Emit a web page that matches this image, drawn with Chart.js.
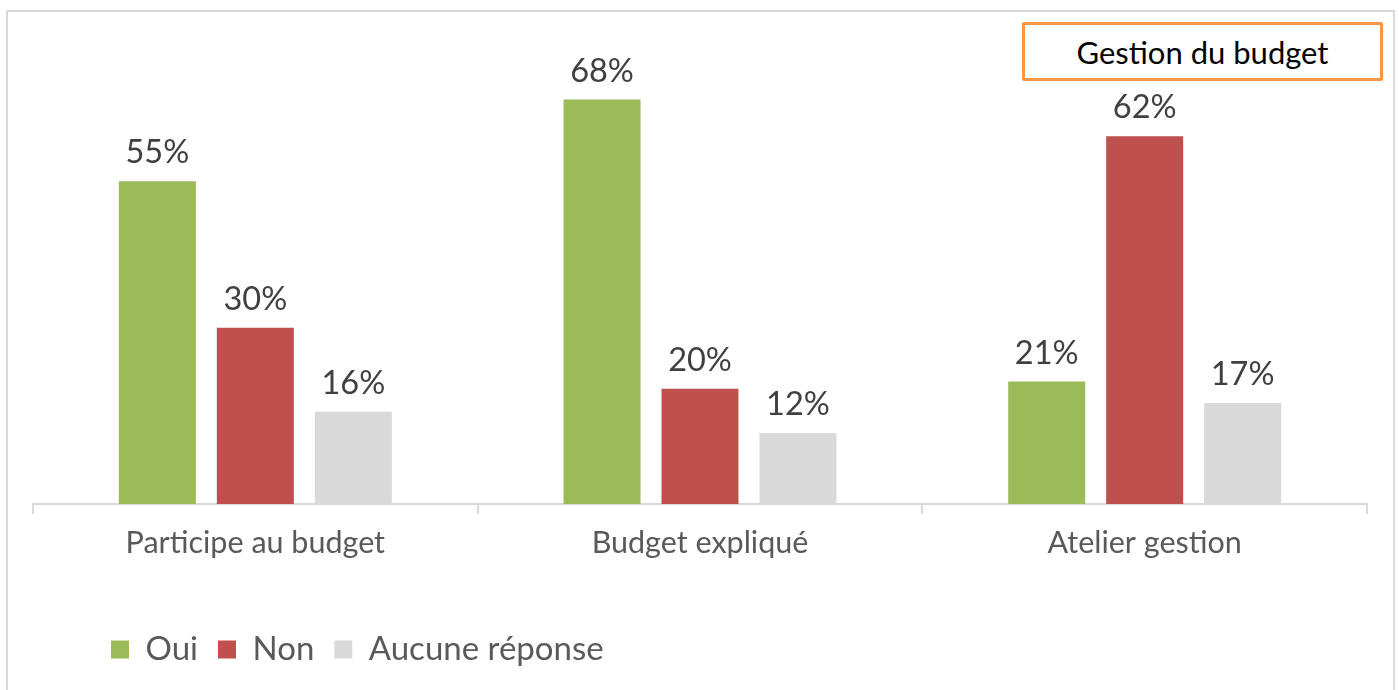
<!DOCTYPE html>
<html>
<head>
<meta charset="utf-8">
<script src="https://cdn.jsdelivr.net/npm/chart.js@4/dist/chart.umd.min.js"></script>
<style>
  html, body { margin: 0; padding: 0; background: #fff; }
  #frame {
    position: absolute; left: 6px; top: 10px; width: 1385px; height: 700px;
    border: 2px solid #d9d9d9; border-bottom: none;
  }
  #wrap { position: absolute; left: 0; top: 0; width: 1399px; height: 690px; }
  #badge {
    position: absolute; left: 1022px; top: 22px; width: 355px; height: 53px;
    border: 3px solid #f79646; border-radius: 2px; background: #fff;
    font-family: Lato, sans-serif; font-size: 31px; color: #000;
    display: flex; align-items: center; justify-content: center;
  }
</style>
</head>
<body>
<div id="frame"></div>
<div id="wrap"><canvas id="chart" width="1399" height="690"></canvas></div>
<div id="badge">Gestion du budget</div>
<script>
// Gestion du budget — réponses par question (en %)
const categories = ["Participe au budget", "Budget expliqué", "Atelier gestion"];
const seriesNames = ["Oui", "Non", "Aucune réponse"];
const oui = [54.6, 68.4, 20.7];
const non = [29.8, 19.5, 62.2];
const aucune = [15.6, 12.0, 17.1];
const colors = ["#9bbb59", "#c0504d", "#d9d9d9"];

const FONT = "Lato, sans-serif";

// value labels above each bar
const barLabels = {
  id: "barLabels",
  afterDatasetsDraw(chart) {
    const ctx = chart.ctx;
    ctx.save();
    ctx.font = "32.5px " + FONT;
    ctx.fillStyle = "#404040";
    ctx.textAlign = "center";
    ctx.textBaseline = "alphabetic";
    chart.data.datasets.forEach((ds, i) => {
      chart.getDatasetMeta(i).data.forEach((bar, j) => {
        ctx.fillText(Math.round(ds.data[j]) + "%", bar.x, bar.y - 18);
      });
    });
    ctx.restore();
  },
};

// push the legend row to the right, like the original
const legendShift = {
  id: "legendShift",
  afterLayout(chart) {
    chart.legend.left += 58;
    chart.legend.right += 58;
  },
};

new Chart(document.getElementById("chart"), {
  type: "bar",
  data: {
    labels: categories,
    datasets: [oui, non, aucune].map((d, i) => ({
      label: seriesNames[i],
      data: d,
      backgroundColor: colors[i],
      borderWidth: 0,
      categoryPercentage: 0.661,
      barPercentage: 0.786,
    })),
  },
  options: {
    responsive: false,
    animation: false,
    layout: { padding: { left: 33, right: 32, top: 31, bottom: 14 } },
    plugins: {
      legend: {
        position: "bottom",
        align: "start",
        labels: {
          boxWidth: 18,
          boxHeight: 18,
          padding: 20,
          color: "#595959",
          font: { family: FONT, size: 33 },
        },
      },
      tooltip: { enabled: false },
    },
    scales: {
      x: {
        grid: {
          offset: true,
          drawOnChartArea: false,
          drawTicks: true,
          tickLength: 10,
          color: "#d9d9d9",
          lineWidth: 2,
        },
        border: { color: "#d9d9d9", width: 2 },
        ticks: {
          color: "#595959",
          padding: 11,
          font: { family: FONT, size: 30.5 },
        },
        afterFit(scale) { scale.height = 109; },
      },
      y: {
        display: false,
        min: 0,
        max: 80,
      },
    },
  },
  plugins: [barLabels, legendShift],
});
</script>
</body>
</html>
